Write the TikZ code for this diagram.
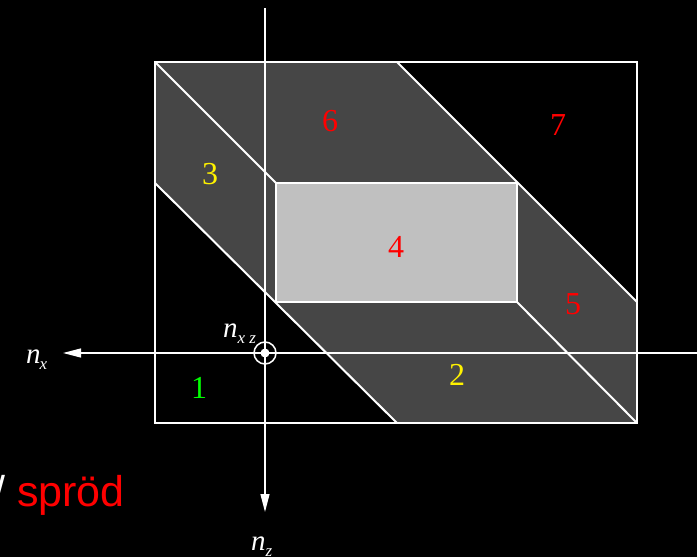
\documentclass[tikz,border=0pt]{standalone}
\usepackage{fontspec}
\setmainfont{Liberation Serif}
\setsansfont{Liberation Sans}
\usetikzlibrary{arrows.meta,positioning}
\definecolor{bandgray}{RGB}{70,70,70}
\definecolor{coregray}{RGB}{192,192,192}
\newcommand{\lowsub}[1]{\raisebox{-6pt}{\fontsize{17}{17}\selectfont\itshape #1}}

\begin{document}
\begin{tikzpicture}[
    x=1pt, y=-1pt,
    region/.style={draw=white, line width=2pt},
    axisline/.style={draw=white, line width=1.3pt, -{Triangle[length=18pt, width=9pt]}},
    num/.style={font=\fontsize{32}{32}\selectfont, inner sep=0pt},
    sym/.style={font=\fontsize{29}{29}\selectfont\itshape, text=white, inner sep=0pt}
]

% ---- background / page size ----
\fill[black] (0,0) rectangle (697,557);
\useasboundingbox (0,0) rectangle (697,557);

% ---- corner points (pixel grid of the reference) ----
\coordinate (TL) at (155,62);
\coordinate (TM) at (397,62);
\coordinate (ML) at (155,183);
\coordinate (MR) at (637,302);
\coordinate (BM) at (397,423);
\coordinate (BR) at (637,423);
\coordinate (I1) at (276,183);
\coordinate (I2) at (517,183);
\coordinate (I3) at (517,302);
\coordinate (I4) at (276,302);

% ---- regions ----
\fill[bandgray] (TL) -- (TM) -- (I2) -- (MR) -- (BR) -- (BM) -- (I4) -- (ML) -- cycle;
\fill[coregray] (I1) rectangle (I3);
\draw[region] (TL) rectangle (BR);
\draw[region] (TM) -- (MR);
\draw[region] (ML) -- (BM);
\draw[region] (TL) -- (I1);
\draw[region] (I3) -- (BR);
\draw[region] (I1) rectangle (I3);

% ---- axes ----
\coordinate (ztop) at (265,8);
\coordinate (zend) at (265,512);
\coordinate (xstart) at (697,353);
\coordinate (xend) at (63,353);
\coordinate (O) at (265,353);
\draw[axisline] (ztop) -- (zend);
\draw[axisline] (xstart) -- (xend);
\draw[white, line width=1.5pt] (O) circle (11);
\fill[white] (O) circle (4.5);

% ---- axis labels ----
\node[sym, anchor=base west] (nx) at (26,363) {n\kern-1pt\lowsub{x}};
\node[sym, anchor=base west] (nxz) at (223,337) {n\lowsub{x z}};
\node[sym, anchor=base west] (nz) at (251,550) {n\lowsub{z}};

% ---- region numbers ----
\node[num, text=green] (r1) at (199,388) {1};
\node[num, text=yellow] (r2) at (457,375) {2};
\node[num, text=yellow] (r3) at (210,174) {3};
\node[num, text=red] (r4) at (396,247) {4};
\node[num, text=red] (r5) at (573,304) {5};
\node[num, text=red] (r6) at (330,121) {6};
\node[num, text=red] (r7) at (558,125) {7};

% ---- caption fragment ----
\node[anchor=base west, inner sep=0pt, font=\sffamily\fontsize{43}{43}\selectfont] (brittle)
    at (-7,506) {\textcolor{white}{/} \textcolor{red}{spröd}};

\end{tikzpicture}
\end{document}
